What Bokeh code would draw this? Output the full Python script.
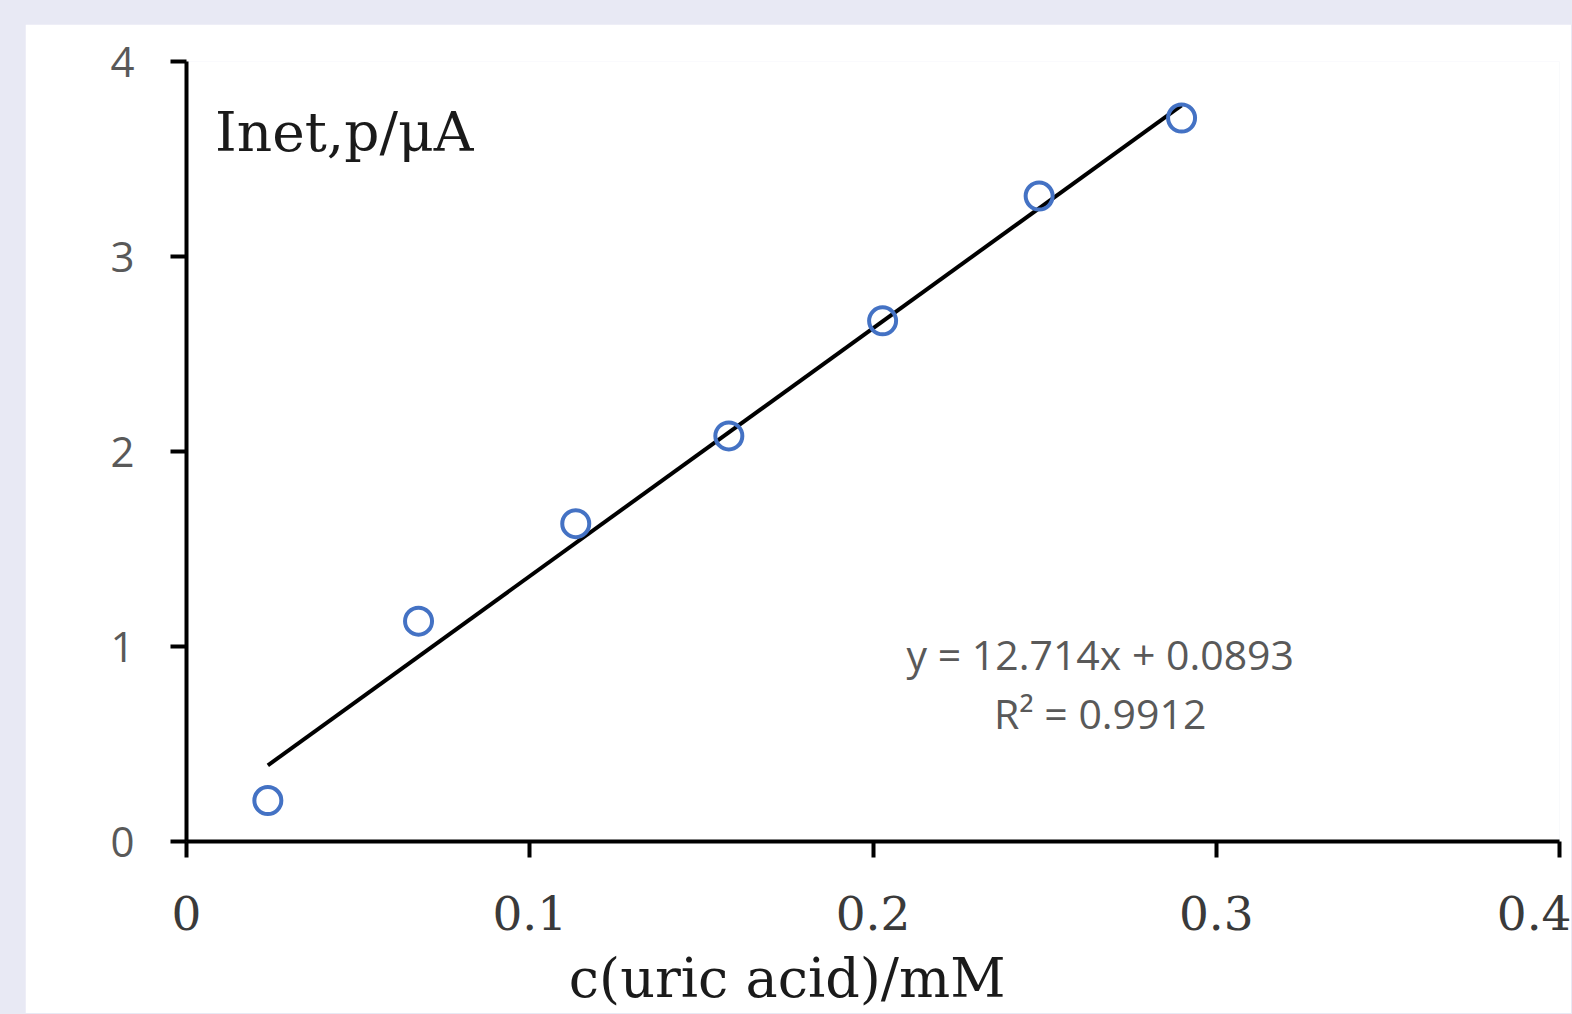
from bokeh.plotting import figure
from bokeh.models import Label, FixedTicker, Spacer, GlobalInlineStyleSheet
from bokeh.layouts import column, row
from bokeh.embed import file_html
from bokeh.resources import INLINE

# data
conc_mM = [0.0237, 0.0676, 0.1134, 0.158, 0.2028, 0.2484, 0.2899]
current_uA = [0.21, 1.13, 1.63, 2.08, 2.67, 3.31, 3.71]
slope = 12.714
intercept = 0.0893
eq_text = "y = 12.714x + 0.0893"
r2_text = "R\u00b2 = 0.9912"
x_ticks = [0, 0.1, 0.2, 0.3, 0.4]
x_tick_labels = ["0", "0.1", "0.2", "0.3", "0.4"]
y_ticks = [0, 1, 2, 3, 4]
y_tick_labels = ["0", "1", "2", "3", "4"]
x_title = "c(uric acid)/mM"
y_title = "Inet,p/\u03bcA"

p = figure(width=1546, height=989, x_range=(0, 0.4), y_range=(0, 4),
           output_backend="svg", toolbar_location=None,
           min_border_left=161, min_border_right=12, min_border_top=37, min_border_bottom=172,
           background_fill_color="white", border_fill_color="white",
           outline_line_color=None)
p.grid.visible = False

for ax in (p.xaxis[0], p.yaxis[0]):
    ax.axis_line_width = 4
    ax.axis_line_color = "black"
    ax.major_tick_line_width = 4
    ax.major_tick_line_color = "black"
    ax.major_tick_out = 16
    ax.major_tick_in = 0
    ax.minor_tick_line_color = None

p.xaxis.ticker = FixedTicker(ticks=x_ticks)
p.xaxis.major_label_overrides = dict(zip(x_ticks, x_tick_labels))
p.xaxis.major_label_text_font = "DejaVu Serif"
p.xaxis.major_label_text_font_size = "47px"
p.xaxis.major_label_text_color = "#3a3a3a"
p.xaxis.major_label_standoff = 38

# x axis title, shifted left of the frame centre as in the reference
p.xaxis.axis_label = x_title + "\u00a0" * 10
p.xaxis.axis_label_text_font = "DejaVu Serif"
p.xaxis.axis_label_text_font_size = "54px"
p.xaxis.axis_label_text_font_style = "normal"
p.xaxis.axis_label_text_color = "#1a1a1a"
p.xaxis.axis_label_standoff = 14

p.yaxis.ticker = FixedTicker(ticks=y_ticks)
p.yaxis.major_label_overrides = dict(zip(y_ticks, y_tick_labels))
p.yaxis.major_label_text_font = "Open Sans"
p.yaxis.major_label_text_font_size = "42px"
p.yaxis.major_label_text_color = "#595959"
p.yaxis.major_label_standoff = 36

# trendline
x_line = [min(conc_mM), max(conc_mM)]
y_line = [slope * x + intercept for x in x_line]
p.line(x_line, y_line, line_color="black", line_width=4)

p.scatter(conc_mM, current_uA, size=27, marker="circle", fill_color=None,
          line_color="#4472C4", line_width=4)

p.add_layout(Label(x=0.2662, y=0.964, text=eq_text, text_align="center", text_baseline="middle",
                   text_font="Open Sans", text_font_size="41px", text_color="#595959"))
p.add_layout(Label(x=0.2662, y=0.66, text=r2_text, text_align="center", text_baseline="middle",
                   text_font="Open Sans", text_font_size="41px", text_color="#595959"))
p.add_layout(Label(x=0.0083, y=3.64, text=y_title, text_align="left", text_baseline="middle",
                   text_font="DejaVu Serif", text_font_size="55px", text_color="#1a1a1a"))

layout = column(Spacer(height=24), row(Spacer(width=25), p),
                stylesheets=[GlobalInlineStyleSheet(css="body{background:#E8E9F4;}")])

open("out.html", "w").write(file_html(layout, INLINE))
